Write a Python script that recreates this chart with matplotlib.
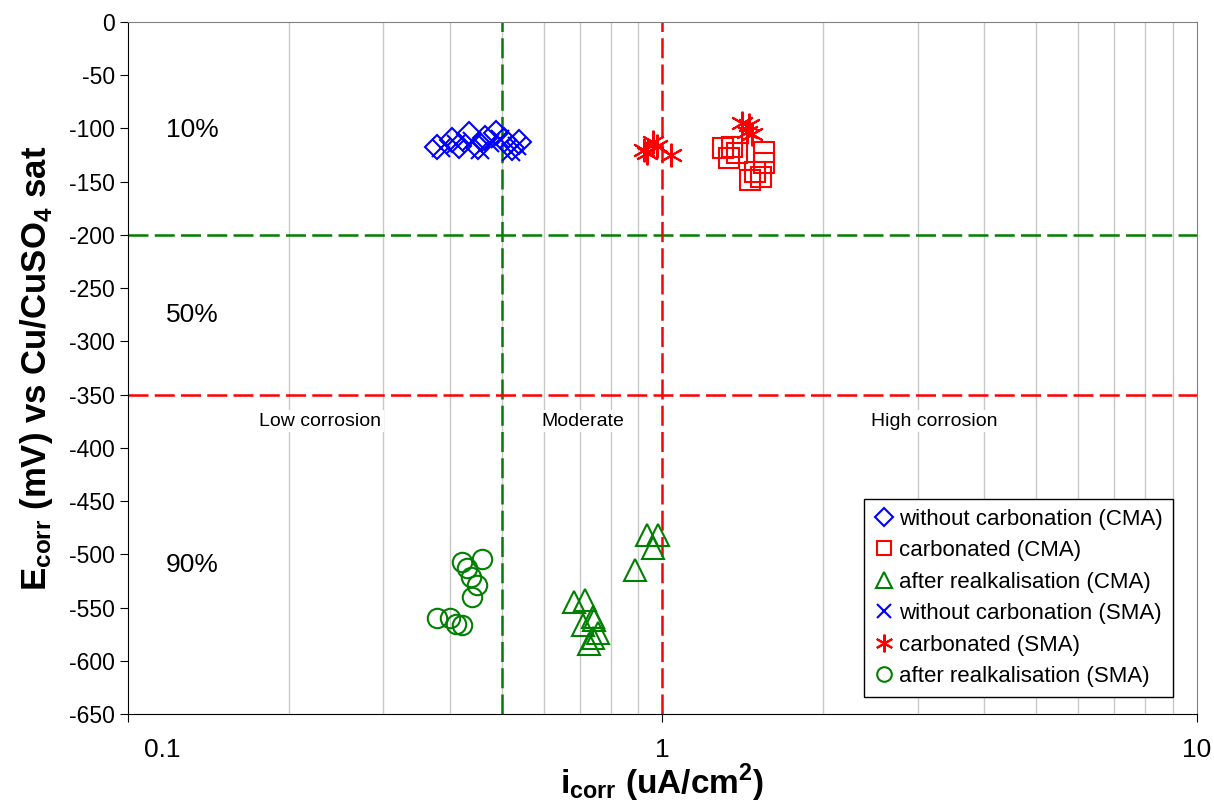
import numpy as np
import matplotlib
matplotlib.use('Agg')
import matplotlib.pyplot as plt
import matplotlib.transforms as mtransforms
from matplotlib.ticker import FixedLocator, NullFormatter

plt.rcParams['font.family'] = ['Liberation Sans', 'DejaVu Sans']
plt.rcParams['axes.unicode_minus'] = False
plt.rcParams['mathtext.fontset'] = 'custom'
plt.rcParams['mathtext.rm'] = 'Liberation Sans'
plt.rcParams['mathtext.bf'] = 'Liberation Sans:bold'

# corrosion current (uA/cm2) and potential (mV) per series
cma_uncarb_i = [0.379, 0.403, 0.417, 0.435, 0.451, 0.465, 0.489, 0.506, 0.522, 0.540]
cma_uncarb_e = [-117, -111, -116, -105, -117, -109, -104, -111, -118, -113]

cma_carb_i = [1.30, 1.33, 1.35, 1.38, 1.55, 1.55, 1.49, 1.53, 1.46]
cma_carb_e = [-118, -128, -117, -123, -122, -132, -141, -146, -148]

cma_realk_i = [0.937, 0.979, 0.958, 0.890, 0.684, 0.715, 0.740, 0.746, 0.709, 0.740, 0.756, 0.730]
cma_realk_e = [-482, -482, -494, -515, -545, -543, -559, -562, -566, -579, -574, -584]

sma_uncarb_i = [0.385, 0.410, 0.440, 0.455, 0.475, 0.497, 0.520, 0.535]
sma_uncarb_e = [-118, -115, -112, -120, -114, -110, -122, -116]

sma_carb_i = [0.925, 0.937, 0.958, 0.975, 1.039, 1.41, 1.45, 1.44, 1.47]
sma_carb_e = [-120, -123, -113, -116, -125, -95, -97, -103, -105]

sma_realk_i = [0.421, 0.460, 0.430, 0.439, 0.449, 0.441, 0.379, 0.400, 0.410, 0.421]
sma_realk_e = [-507, -504, -513, -521, -529, -540, -560, -560, -565, -566]

zone_labels = ['10%', '50%', '90%']
zone_e = [-101, -275, -510]
band_labels = ['Low corrosion', 'Moderate', 'High corrosion']
band_i = [0.229, 0.711, 3.23]

fig = plt.figure(figsize=(12.14, 8.09), dpi=100)
ax = fig.add_axes([0.1054, 0.1174, 0.8806, 0.8554])

ax.set_xscale('log')
ax.set_xlim(0.1, 10)
ax.set_ylim(-650, 0)
ax.set_yticks(np.arange(-650, 1, 50))

ax.xaxis.set_minor_locator(FixedLocator([k * d for d in (0.1, 1) for k in range(2, 10)]))
ax.xaxis.set_minor_formatter(NullFormatter())
ax.grid(True, which='minor', axis='x', color='#c8c8c8', lw=1)
ax.tick_params(which='minor', length=0)
ax.tick_params(which='major', direction='out', length=6, labelsize=16.5, color='black')
ax.tick_params(axis='x', which='major', pad=11, labelsize=19)
ax.set_xticks([0.1, 1, 10])
ax.set_xticklabels(['0.1', '1', '10'])
# the first label sits a bit right of its tick
shift = mtransforms.ScaledTranslation(0.34, 0, fig.dpi_scale_trans)
lbl0 = ax.get_xticklabels()[0]
lbl0.set_transform(lbl0.get_transform() + shift)

for s in ('top', 'right'):
    ax.spines[s].set_color('#808080')
for s in ('left', 'bottom'):
    ax.spines[s].set_color('black')

dash = (0, (8, 2.5))
ax.axhline(-200, color='#008000', ls=dash, lw=1.8, zorder=2)
ax.axvline(0.5, color='#008000', ls=dash, lw=1.8, zorder=2)
ax.axhline(-350, color='#ff0000', ls=dash, lw=1.8, zorder=2)
ax.axvline(1, color='#ff0000', ls=dash, lw=1.8, zorder=2)

kw = dict(ls='none', mfc='none', mew=1.5)
ax.plot(cma_uncarb_i, cma_uncarb_e, marker='D', ms=12.5, mec='#0000ff', label='without carbonation (CMA)', **kw)
ax.plot(cma_carb_i, cma_carb_e, marker='s', ms=14, mec='#ff0000', label='carbonated (CMA)', **kw)
ax.plot(cma_realk_i, cma_realk_e, marker='^', ms=15.5, mec='#008000', label='after realkalisation (CMA)', **kw)
ax.plot(sma_uncarb_i, sma_uncarb_e, marker='x', ms=13, mec='#0000ff', label='without carbonation (SMA)', **kw)
ax.plot(sma_carb_i, sma_carb_e, marker=(6, 2, 0), ms=17, mec='#ff0000', label='carbonated (SMA)', **kw)
ax.plot(sma_realk_i, sma_realk_e, marker='o', ms=14, mec='#008000', label='after realkalisation (SMA)', **kw)

for lab, e in zip(zone_labels, zone_e):
    ax.text(0.132, e, lab, fontsize=19, ha='center', va='center')
for lab, i in zip(band_labels, band_i):
    ax.text(i, -375, lab, fontsize=14, ha='center', va='center',
            bbox=dict(facecolor='white', edgecolor='none', pad=2))

leg = ax.legend(loc='lower right', bbox_to_anchor=(0.9776, 0.0246), fontsize=16,
                markerscale=0.75, handlelength=0.9, handletextpad=0.25,
                borderpad=0.45, labelspacing=0.47, borderaxespad=0,
                fancybox=False, framealpha=1, edgecolor='black')
leg.get_frame().set_linewidth(1.0)

ax.set_ylabel(r'$\mathbf{E_{corr}}$ (mV) vs Cu/CuSO$_\mathbf{4}$ sat', fontsize=25,
              fontweight='bold', labelpad=10)
ax.set_xlabel(r'$\mathbf{i_{corr}}$ (uA/cm$^\mathbf{2}$)', fontsize=24,
              fontweight='bold', labelpad=0)

fig.savefig('out.png', dpi=100)
